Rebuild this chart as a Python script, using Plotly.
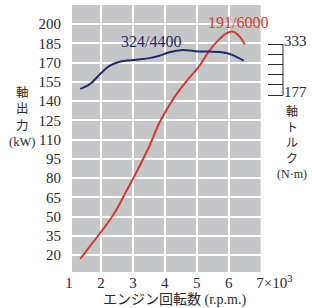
import plotly.graph_objects as go

# ---- data ----
rpm_power = [1.35, 1.66, 1.97, 2.43, 2.8, 3.1, 3.5, 3.85, 4.3, 4.66, 5.07, 5.39, 5.7, 5.95, 6.15, 6.35, 6.5]
power_kw = [17, 27, 37, 53, 70, 84, 104, 124, 143, 155, 167, 179, 188, 193, 194, 190, 184]

rpm_torque = [1.35, 1.66, 1.97, 2.28, 2.59, 3.11, 3.52, 3.83, 4.14, 4.56, 4.97, 5.39, 5.8, 6.11, 6.47]
torque_nm = [196, 211, 241, 267, 279, 285, 290, 297, 308, 315, 311, 310, 308, 300, 282]

x_ticks = [1, 2, 3, 4, 5, 6]
x_tick_text = ["1", "2", "3", "4", "5", "6"]
y_ticks = [20, 35, 50, 65, 80, 95, 110, 125, 140, 155, 170, 185, 200]
torque_labels = [177, 333]
torque_minor_count = 6

peak_power_label = "191/6000"
peak_torque_label = "324/4400"

# ---- layout constants ----
W, H = 312, 308
ML, MR, MT, MB = 69, 27, 5, 36
x_range = [1.0, 7.7]
y_range = [6.8, 214.8]
gray_x = [1.093, 7.0]
# torque axis: which kW-scale value each torque end sits at
t_lo, t_hi = torque_labels
v_lo, v_hi = 144.6, 184.4
def kw_to_nm(v):
    return t_lo + (v - v_lo) * (t_hi - t_lo) / (v_hi - v_lo)
y2_range = [kw_to_nm(y_range[0]), kw_to_nm(y_range[1])]
t_ticks = [t_lo + i * (t_hi - t_lo) / (torque_minor_count - 1) for i in range(torque_minor_count)]
t_text = [str(t_lo)] + [""] * (torque_minor_count - 2) + [str(t_hi)]

SERIF = "Liberation Serif, Noto Sans CJK JP, serif"
BLUE = "#1d2a6c"
RED = "#d63a2b"
GRAY = "#c4c6c8"
INK = "#2a2a2a"

fig = go.Figure()
fig.add_trace(go.Scatter(x=rpm_torque, y=torque_nm, yaxis="y2", mode="lines",
                         line=dict(color=BLUE, width=2, shape="spline"), hoverinfo="skip"))
fig.add_trace(go.Scatter(x=rpm_power, y=power_kw, mode="lines",
                         line=dict(color=RED, width=2, shape="spline"), hoverinfo="skip"))

fig.update_layout(
    width=W, height=H,
    margin=dict(l=ML, r=MR, t=MT, b=MB),
    paper_bgcolor="white", plot_bgcolor="white",
    showlegend=False,
    font=dict(family=SERIF, color=INK, size=15),
    xaxis=dict(range=x_range, tickvals=x_ticks + [7.43], ticktext=x_tick_text + ["7×10<sup>3</sup>"],
               showgrid=True, gridcolor="white", gridwidth=2, zeroline=False, showline=False,
               ticks="", tickfont=dict(size=15, family=SERIF, color=INK), fixedrange=True),
    yaxis=dict(range=y_range, tickvals=y_ticks, showgrid=True, gridcolor="white", gridwidth=2,
               zeroline=False, showline=False, ticks="outside", ticklen=4, tickcolor="rgba(0,0,0,0)",
               tickfont=dict(size=15, family=SERIF, color=INK), fixedrange=True),
    yaxis2=dict(range=y2_range, overlaying="y", side="right", anchor="x",
                tickvals=t_ticks, ticktext=t_text, ticks="inside", ticklen=15, tickwidth=1,
                tickcolor=INK, showgrid=False, zeroline=False, showline=False, ticklabelshift=-3,
                tickfont=dict(size=15, family=SERIF, color=INK), fixedrange=True),
    shapes=[
        dict(type="rect", xref="x", yref="y domain", x0=gray_x[0], x1=gray_x[1], y0=0, y1=1,
             fillcolor=GRAY, line=dict(width=0), layer="below"),
        dict(type="line", xref="x domain", yref="y2", x0=1, x1=1, y0=t_lo, y1=t_hi,
             line=dict(color=INK, width=1)),
    ],
    annotations=[
        dict(text=peak_torque_label, x=3.58, y=186, xref="x", yref="y", showarrow=False,
             font=dict(size=16, color=BLUE, family=SERIF)),
        dict(text=peak_power_label, x=6.3, y=200.8, xref="x", yref="y", showarrow=False,
             font=dict(size=16, color=RED, family=SERIF)),
        dict(text="軸<br>出<br>力<br>(kW)", x=22, y=118, xref="paper", yref="paper",
             showarrow=False, font=dict(size=12.5, family=SERIF, color=INK)),
        dict(text="エンジン回転数 (r.p.m.)", x=175, y=300, xref="paper", yref="paper",
             showarrow=False, font=dict(size=14, family=SERIF, color=INK)),
        dict(text="軸<br>ト<br>ル<br>ク<br>(N·m)", x=294, y=143, xref="paper", yref="paper",
             showarrow=False, font=dict(size=12, family=SERIF, color=INK)),
    ],
)

# convert pixel positions of the free text annotations into paper coordinates
pw = W - ML - MR
ph = H - MT - MB
for a in fig.layout.annotations:
    if a.xref == "paper":
        a.x = (a.x - ML) / pw
        a.y = 1 - (a.y - MT) / ph
        a.xanchor = "center"
        a.yanchor = "middle"

fig.write_html("out.html", config={"displayModeBar": False},
               post_script="document.body.style.margin='0';")
